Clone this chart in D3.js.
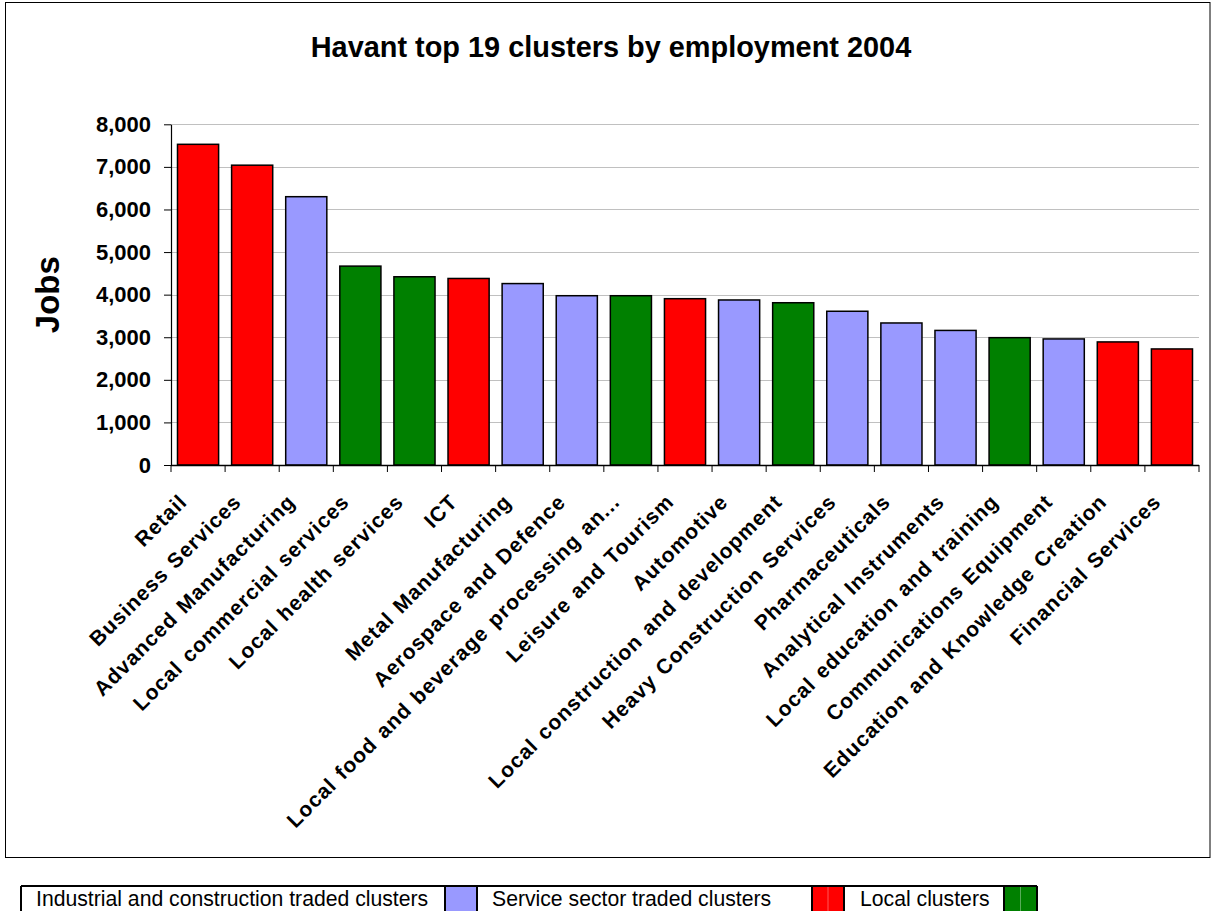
<!DOCTYPE html>
<html>
<head>
<meta charset="utf-8">
<script src="https://cdn.jsdelivr.net/npm/d3@7"></script>
<style>
  html, body { margin: 0; padding: 0; background: #fff; }
  svg { display: block; font-family: Arial, "Liberation Sans", sans-serif; }
</style>
</head>
<body>
<svg id="chart" width="1213" height="911"></svg>
<script>
// ---- data ----
const title = "Havant top 19 clusters by employment 2004";
const yLabel = "Jobs";
const categories = [
  "Retail", "Business Services", "Advanced Manufacturing", "Local commercial services",
  "Local health services", "ICT", "Metal Manufacturing", "Aerospace and Defence",
  "Local food and beverage processing an...", "Leisure and Tourism", "Automotive",
  "Local construction and development", "Heavy Construction Services", "Pharmaceuticals",
  "Analytical Instruments", "Local education and training", "Communications Equipment",
  "Education and Knowledge Creation", "Financial Services"
];
const jobs = [7530, 7040, 6300, 4670, 4420, 4380, 4260, 3975, 3975, 3905, 3875, 3810, 3610, 3335, 3160, 2990, 2960, 2890, 2725];
const clusterType = [1, 1, 0, 2, 2, 1, 0, 0, 2, 1, 0, 2, 0, 0, 0, 2, 0, 1, 1];
const typeLabels = ["Industrial and construction traded clusters", "Service sector traded clusters", "Local clusters"];
const typeColors = ["#9999FF", "#FF0000", "#008000"];
const yTicks = [0, 1000, 2000, 3000, 4000, 5000, 6000, 7000, 8000];

// ---- layout ----
const svg = d3.select("#chart");
const plot = { left: 171, right: 1199, top: 124.3, bottom: 465 };

svg.append("rect").attr("x", 5.5).attr("y", 2.5).attr("width", 1204.5).attr("height", 855)
  .attr("fill", "#fff").attr("stroke", "#000").attr("stroke-width", 1);

const x = d3.scaleBand().domain(categories).range([plot.left, plot.right])
  .paddingInner(0.24).paddingOuter(0.12);
const y = d3.scaleLinear().domain([0, 8000]).range([plot.bottom, plot.top]);

// gridlines
svg.append("g").selectAll("line").data(yTicks.slice(1)).join("line")
  .attr("x1", plot.left).attr("x2", plot.right)
  .attr("y1", d => Math.round(y(d)) + 0.5).attr("y2", d => Math.round(y(d)) + 0.5)
  .attr("stroke", "#c0c0c0").attr("stroke-width", 1);

// bars
svg.append("g").selectAll("rect").data(categories).join("rect")
  .attr("x", d => x(d))
  .attr("y", (d, i) => y(jobs[i]))
  .attr("width", x.bandwidth())
  .attr("height", (d, i) => y(0) - y(jobs[i]))
  .attr("fill", (d, i) => typeColors[clusterType[i]])
  .attr("stroke", "#000").attr("stroke-width", 1.5);

// y axis
const yAxis = d3.axisLeft(y).tickValues(yTicks).tickSize(7).tickSizeOuter(0).tickPadding(13)
  .tickFormat(d3.format(","));
const gy = svg.append("g").attr("transform", `translate(${plot.left},0)`).call(yAxis);
gy.select(".domain").attr("stroke", "#000").attr("stroke-width", 1.2);
gy.selectAll(".tick line").attr("stroke", "#000");
gy.selectAll("text").attr("font-size", 22).attr("font-weight", "bold").attr("fill", "#000")
  .attr("font-family", "Arial, 'Liberation Sans', sans-serif");

// x axis
const step = x.step();
const boundaries = categories.map(c => x(c) - (step - x.bandwidth()) / 2);
boundaries.push(plot.right);
const gx = svg.append("g");
gx.append("line").attr("x1", plot.left).attr("x2", plot.right)
  .attr("y1", plot.bottom + 0.5).attr("y2", plot.bottom + 0.5)
  .attr("stroke", "#000").attr("stroke-width", 1.5);
gx.selectAll("line.tk").data(boundaries).join("line").attr("class", "tk")
  .attr("x1", d => d).attr("x2", d => d)
  .attr("y1", plot.bottom).attr("y2", plot.bottom + 7)
  .attr("stroke", "#000").attr("stroke-width", 1);
gx.selectAll("text").data(categories).join("text")
  .attr("transform", d => `translate(${x(d) + x.bandwidth() / 2 - 15},${plot.bottom + 33}) rotate(-45)`)
  .attr("text-anchor", "end")
  .attr("dy", "0.35em")
  .attr("font-size", 21).attr("font-weight", "bold").attr("fill", "#000")
  .attr("letter-spacing", 1).attr("word-spacing", 1.5)
  .text(d => d);

// y label
svg.append("text").attr("transform", `translate(59,${(plot.top + plot.bottom) / 2}) rotate(-90)`)
  .attr("text-anchor", "middle").attr("font-size", 33).attr("font-weight", "bold").text(yLabel);

// title
svg.append("text").attr("x", 611).attr("y", 57).attr("text-anchor", "middle")
  .attr("font-size", 28.9).attr("font-weight", "bold").text(title);

// legend (table below chart)
const legendCells = [
  { x0: 21, x1: 445, sx0: 445, sx1: 477, tx: 36 },
  { x0: 477, x1: 812, sx0: 812, sx1: 844, tx: 492 },
  { x0: 844, x1: 1004, sx0: 1004, sx1: 1037, tx: 860 }
];
const lg = svg.append("g");
const ly0 = 886, ly1 = 915;
typeLabels.forEach((lab, i) => {
  const c = legendCells[i];
  lg.append("rect").attr("x", c.sx0).attr("y", ly0).attr("width", c.sx1 - c.sx0).attr("height", ly1 - ly0)
    .attr("fill", typeColors[i]);
  if (i > 0) {
    lg.append("line").attr("x1", (c.sx0 + c.sx1) / 2).attr("x2", (c.sx0 + c.sx1) / 2)
      .attr("y1", ly0).attr("y2", ly1).attr("stroke", "rgba(255,255,255,0.35)").attr("stroke-width", 1);
  }
  lg.append("text").attr("x", c.tx).attr("y", 906).attr("font-size", 21.2).attr("fill", "#000").text(lab);
});
// table borders
lg.append("line").attr("x1", 21).attr("x2", 1037).attr("y1", ly0).attr("y2", ly0).attr("stroke", "#000").attr("stroke-width", 2);
[21, 445, 477, 812, 844, 1004, 1037].forEach(v => {
  lg.append("line").attr("x1", v).attr("x2", v).attr("y1", ly0).attr("y2", ly1).attr("stroke", "#000").attr("stroke-width", 2);
});
</script>
</body>
</html>
